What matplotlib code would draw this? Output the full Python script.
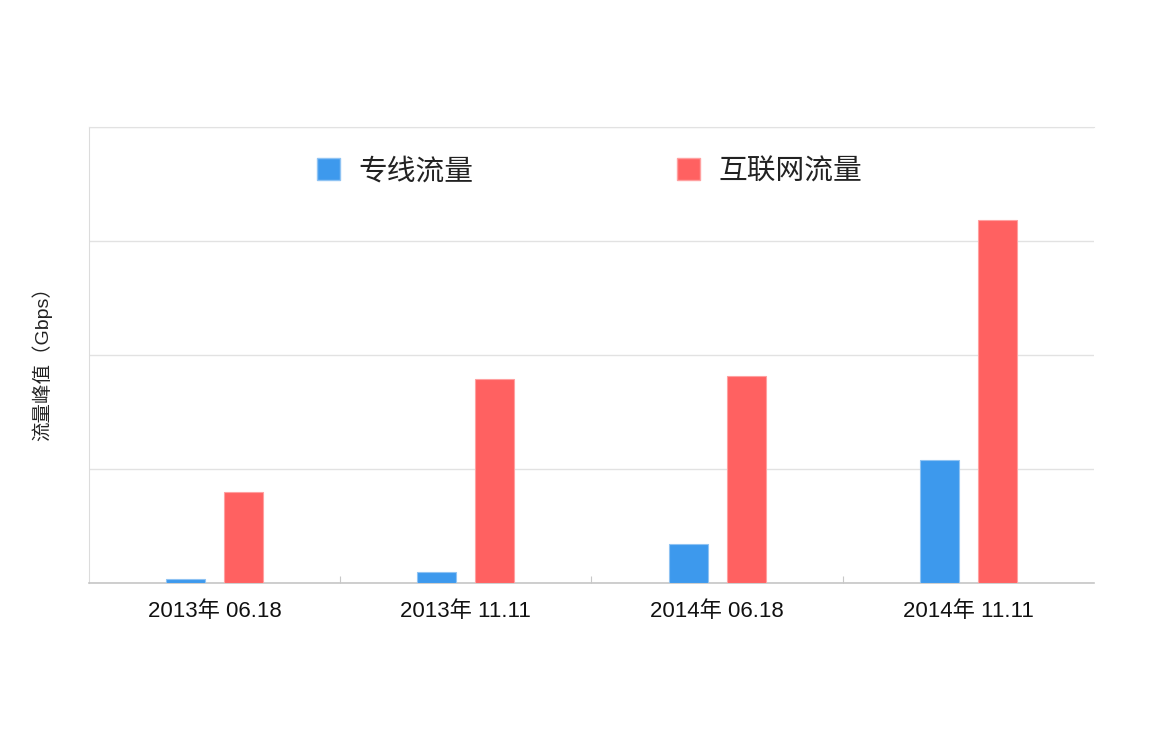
import matplotlib.pyplot as plt
import numpy as np
from matplotlib.patches import Patch

plt.rcParams["font.family"] = ["Liberation Sans", "Noto Sans CJK SC", "DejaVu Sans"]

CATEGORIES = ["2013年 06.18", "2013年 11.11", "2014年 06.18", "2014年 11.11"]
SERIES_NAMES = ["专线流量", "互联网流量"]
LEASED_LINE = [0.033, 0.096, 0.338, 1.076]
INTERNET = [0.796, 1.787, 1.816, 3.185]
COLORS = ["#3d99ed", "#ff6161"]
EDGES = ["#8fc3f3", "#ffa0a0"]
GRID = "#e2e2e2"


def main() -> None:
    fig = plt.figure(figsize=(11.53, 7.29), dpi=100)
    ax = fig.add_axes([0.0772, 0.2003, 0.8716, 0.6255])

    x = np.arange(len(CATEGORIES))
    width = 0.155
    offset = 0.1155
    ax.bar(x - offset, LEASED_LINE, width, color=COLORS[0], edgecolor=EDGES[0],
           linewidth=0.8, zorder=3)
    ax.bar(x + offset, INTERNET, width, color=COLORS[1], edgecolor=EDGES[1],
           linewidth=0.8, zorder=3)

    ax.set_xlim(-0.5, len(CATEGORIES) - 0.5)
    ax.set_ylim(0, 4)
    ax.set_yticks([0, 1, 2, 3, 4])
    ax.tick_params(axis="y", length=0, labelleft=False)
    ax.yaxis.grid(True, color=GRID, linewidth=1.0, zorder=0)

    ax.set_xticks(x)
    ax.set_xticklabels(CATEGORIES, fontsize=16, color="#111111")
    ax.tick_params(axis="x", which="major", length=0, pad=13)
    ax.set_xticks(x[:-1] + 0.5, minor=True)
    ax.tick_params(axis="x", which="minor", direction="in", length=5,
                   width=0.8, color="#c8c8c8")

    ax.spines["right"].set_visible(False)
    ax.spines["top"].set_color(GRID)
    ax.spines["left"].set_color("#dcdcdc")
    ax.spines["bottom"].set_color("#c6c6c6")
    ax.spines["bottom"].set_linewidth(1.2)
    ax.set_axisbelow(True)

    ax.set_ylabel("流量峰值（Gbps）", fontsize=14, color="#222222")
    ax.yaxis.set_label_coords(-0.037, 0.49)

    handles = [Patch(facecolor=COLORS[0], edgecolor=EDGES[0]),
               Patch(facecolor=COLORS[1], edgecolor=EDGES[1])]
    ax.legend(handles, SERIES_NAMES, loc="center", bbox_to_anchor=(0.498, 0.903),
              ncol=2, frameon=False, fontsize=20.7, handlelength=0.8,
              handleheight=0.8, handletextpad=0.63, columnspacing=7.1,
              labelcolor="#222222")

    fig.savefig("out.png", dpi=100)


if __name__ == "__main__":
    main()
